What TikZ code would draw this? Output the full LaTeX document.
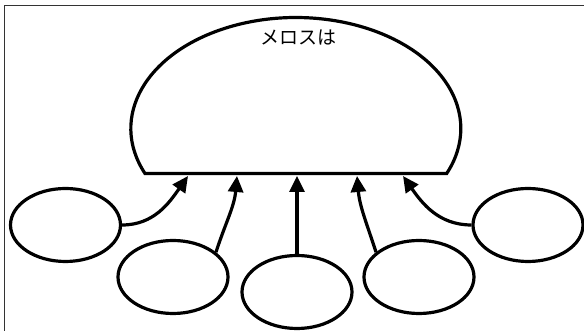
\documentclass[tikz,border=0pt]{standalone}
\usepackage{fontspec}
\newfontfamily\jpfont{Noto Sans CJK JP}
\usetikzlibrary{arrows.meta, shapes.geometric}

\begin{document}
\begin{tikzpicture}[x=1pt, y=1pt,
      bubble/.style={draw, ellipse, line width=3.2pt, minimum width=110pt, minimum height=73pt, inner sep=0pt},
      link/.style={-{Triangle[length=16pt, width=15pt]}, line width=3.2pt}]
            \useasboundingbox (0,0) rectangle (584,331);
            % Frame
            \draw[black!80, line width=1.6pt] (4.5,0) -- (4.5,325.5) -- (584,325.5);
            % Dome
            \draw[line width=3.2pt, line join=miter] (145,157.5)
               arc[start angle=203.9, end angle=-23.9, x radius=165, y radius=111] -- cycle;
            \node[font=\jpfont\fontsize{19}{21}\selectfont] (title) at (298,293.5) {メロスは};
            % Targets on the base of the dome
            \coordinate (t1) at (188,155);
            \coordinate (t2) at (237,155);
            \coordinate (t3) at (297,155);
            \coordinate (t4) at (357,155);
            \coordinate (t5) at (403,155);
            % Bubbles
            \node[bubble] (b1) at (65.5,106) {};
            \node[bubble] (b2) at (173,54) {};
            \node[bubble] (b3) at (297,39) {};
            \node[bubble] (b4) at (419,54) {};
            \node[bubble] (b5) at (528,106) {};
            % Arrows
            \draw[link] (b1.east) to[out=0, in=-125] (t1);
            \draw[link] (b2.30) to[out=72, in=-95] (t2);
            \draw[link] (b3.north) -- (t3);
            \draw[link] (b4.150) to[out=108, in=-85] (t4);
            \draw[link] (b5.west) to[out=180, in=-55] (t5);
         \end{tikzpicture}
\end{document}
